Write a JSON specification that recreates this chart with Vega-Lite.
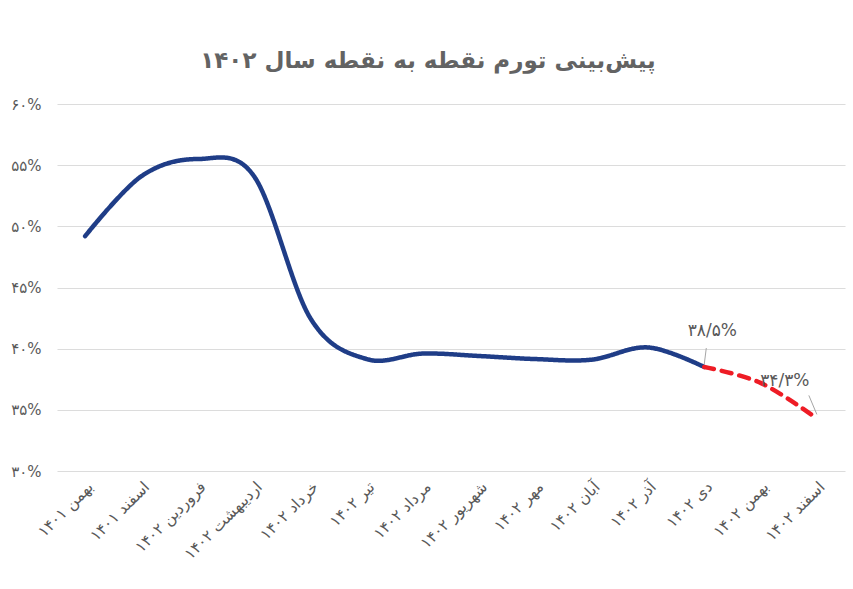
{
  "$schema": "https://vega.github.io/schema/vega-lite/v6.json",
  "width": 788,
  "height": 367,
  "autosize": {"type": "none"},
  "padding": {"left": 57, "top": 104, "right": 8, "bottom": 118},
  "background": "white",
  "view": {"stroke": null},
  "title": {
    "text": "پیش‌بینی تورم نقطه به نقطه سال ۱۴۰۲",
    "font": "DejaVu Sans",
    "fontSize": 23,
    "fontWeight": "bold",
    "color": "#636363",
    "anchor": "middle",
    "dx": -23,
    "offset": 24
  },
  "datasets": {
    "series": [
      {"month": "بهمن ۱۴۰۱", "value": 49.2, "series": "actual"},
      {"month": "اسفند ۱۴۰۱", "value": 54.1, "series": "actual"},
      {"month": "فروردین ۱۴۰۲", "value": 55.5, "series": "actual"},
      {"month": "اردیبهشت ۱۴۰۲", "value": 54.1, "series": "actual"},
      {"month": "خرداد ۱۴۰۲", "value": 42.5, "series": "actual"},
      {"month": "تیر ۱۴۰۲", "value": 39.15, "series": "actual"},
      {"month": "مرداد ۱۴۰۲", "value": 39.6, "series": "actual"},
      {"month": "شهریور ۱۴۰۲", "value": 39.4, "series": "actual"},
      {"month": "مهر ۱۴۰۲", "value": 39.15, "series": "actual"},
      {"month": "آبان ۱۴۰۲", "value": 39.1, "series": "actual"},
      {"month": "آذر ۱۴۰۲", "value": 40.1, "series": "actual"},
      {"month": "دی ۱۴۰۲", "value": 38.5, "series": "actual"},
      {"month": "دی ۱۴۰۲", "value": 38.5, "series": "forecast"},
      {"month": "بهمن ۱۴۰۲", "value": 37.2, "series": "forecast"},
      {"month": "اسفند ۱۴۰۲", "value": 34.3, "series": "forecast"}
    ],
    "labels": [
      {"month": "دی ۱۴۰۲", "value": 38.5, "label": "۳۸/۵%", "which": "dey"},
      {"month": "اسفند ۱۴۰۲", "value": 34.3, "label": "۳۴/۳%", "which": "esfand"}
    ]
  },
  "encoding": {
    "x": {
      "field": "month",
      "type": "ordinal",
      "sort": ["بهمن ۱۴۰۱", "اسفند ۱۴۰۱", "فروردین ۱۴۰۲", "اردیبهشت ۱۴۰۲", "خرداد ۱۴۰۲", "تیر ۱۴۰۲", "مرداد ۱۴۰۲", "شهریور ۱۴۰۲", "مهر ۱۴۰۲", "آبان ۱۴۰۲", "آذر ۱۴۰۲", "دی ۱۴۰۲", "بهمن ۱۴۰۲", "اسفند ۱۴۰۲"],
      "scale": {"type": "point", "padding": 0.5},
      "axis": {
        "title": null,
        "labelAngle": -45,
        "labelFont": "DejaVu Sans",
        "labelFontSize": 15.5,
        "labelColor": "#595959",
        "labelPadding": 8,
        "ticks": false,
        "domain": false,
        "grid": false
      }
    },
    "y": {
      "field": "value",
      "type": "quantitative",
      "scale": {"domain": [30, 60], "nice": false, "zero": false},
      "axis": {
        "title": null,
        "values": [30, 35, 40, 45, 50, 55, 60],
        "labelExpr": "datum.value==30?'۳۰%':datum.value==35?'۳۵%':datum.value==40?'۴۰%':datum.value==45?'۴۵%':datum.value==50?'۵۰%':datum.value==55?'۵۵%':'۶۰%'",
        "labelFont": "DejaVu Sans",
        "labelFontSize": 15,
        "labelColor": "#595959",
        "labelPadding": 16,
        "ticks": false,
        "domain": false,
        "grid": true,
        "gridColor": "#dcdcdc",
        "gridWidth": 1.2
      }
    }
  },
  "layer": [
    {
      "data": {"name": "series"},
      "mark": {"type": "line", "interpolate": "cardinal", "tension": 0, "strokeWidth": 4.5, "strokeCap": "round", "strokeJoin": "round"},
      "encoding": {
        "color": {
          "field": "series",
          "type": "nominal",
          "scale": {"domain": ["actual", "forecast"], "range": ["#1f3d87", "#ee1c25"]},
          "legend": null
        },
        "strokeDash": {
          "field": "series",
          "type": "nominal",
          "scale": {"domain": ["actual", "forecast"], "range": [[1, 0], [10, 8]]},
          "legend": null
        }
      }
    },
    {
      "data": {"name": "labels"},
      "transform": [{"filter": "datum.which == 'dey'"}],
      "mark": {"type": "rule", "color": "#a6a6a6", "strokeWidth": 1, "yOffset": -3, "y2Offset": -19, "x2Offset": 2},
      "encoding": {"x2": {"field": "month"}, "y2": {"field": "value"}}
    },
    {
      "data": {"name": "labels"},
      "transform": [{"filter": "datum.which == 'esfand'"}],
      "mark": {"type": "rule", "color": "#a6a6a6", "strokeWidth": 1, "yOffset": -4, "y2Offset": -23, "x2Offset": -8},
      "encoding": {"x2": {"field": "month"}, "y2": {"field": "value"}}
    },
    {
      "data": {"name": "labels"},
      "transform": [{"filter": "datum.which == 'dey'"}],
      "mark": {"type": "text", "font": "DejaVu Sans", "fontSize": 17, "color": "#595959", "dx": 8, "dy": -36},
      "encoding": {"text": {"field": "label"}}
    },
    {
      "data": {"name": "labels"},
      "transform": [{"filter": "datum.which == 'esfand'"}],
      "mark": {"type": "text", "font": "DejaVu Sans", "fontSize": 17, "color": "#595959", "dx": -32, "dy": -37},
      "encoding": {"text": {"field": "label"}}
    }
  ]
}
